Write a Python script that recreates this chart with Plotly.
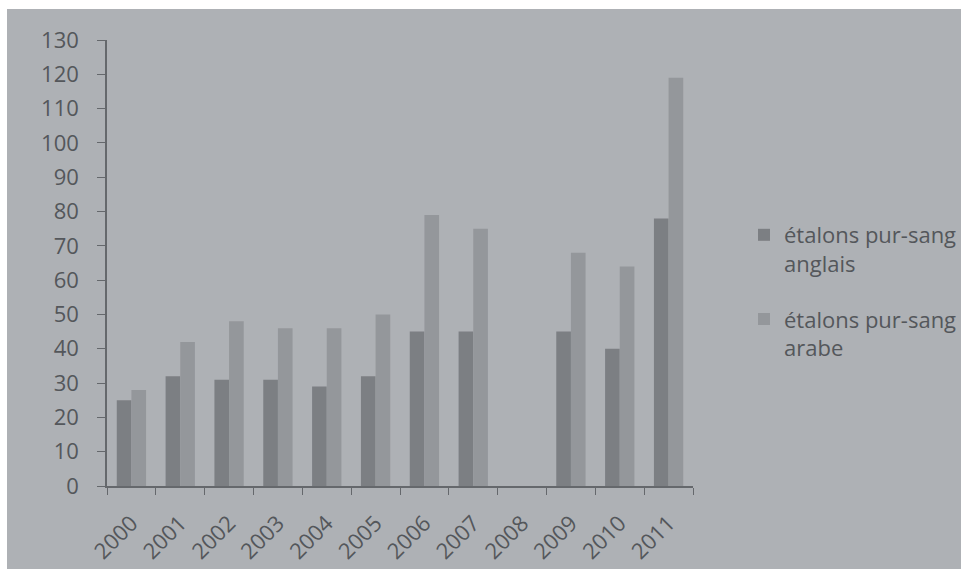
import plotly.graph_objects as go

# Horse stallion counts per year
years = ["2000", "2001", "2002", "2003", "2004", "2005",
         "2006", "2007", "2008", "2009", "2010", "2011"]
anglais = [25, 32, 31, 31, 29, 32, 45, 45, None, 45, 40, 78]
arabe = [28, 42, 48, 46, 46, 50, 79, 75, None, 68, 64, 119]
y_ticks = list(range(0, 131, 10))

BG = "#aeb1b5"
TXT = "#54575b"
AXIS = "#65686c"

fig = go.Figure()
fig.add_trace(go.Bar(
    x=years, y=anglais, name="étalons pur-sang<br>anglais",
    legendgroup="anglais",
    marker=dict(color="#7c7f83", line=dict(width=0)),
))
fig.add_trace(go.Bar(
    x=years, y=arabe, name="étalons pur-sang<br>arabe",
    legendgroup="arabe",
    marker=dict(color="#94979b", line=dict(width=0)),
))

W, H = 961, 569
L, R, T, B = 107, 268, 40, 83
pw, ph = W - L - R, H - T - B

# page frame: thin white border at top and left edges
fig.add_shape(
    type="rect", xref="paper", yref="paper", layer="below",
    x0=(7 - L) / pw, x1=(W - L) / pw + 0.05,
    y0=-(B + 5) / ph, y1=(H - B - 9) / ph,
    fillcolor=BG, line=dict(width=0),
)

fig.update_layout(
    width=W, height=H,
    margin=dict(l=L, r=R, t=T, b=B, pad=0, autoexpand=False),
    paper_bgcolor="white",
    plot_bgcolor=BG,
    barmode="group",
    bargap=0.4,
    bargroupgap=0,
    font=dict(family="Open Sans", size=22, color=TXT),
    showlegend=True,
    legend=dict(
        x=(744 - L) / pw, y=(H - B - 214) / ph,
        xanchor="left", yanchor="top",
        bgcolor="rgba(0,0,0,0)",
        font=dict(family="Open Sans", size=22, color=TXT),
        itemwidth=30,
        tracegroupgap=24,
        traceorder="grouped",
        valign="top",
    ),
    xaxis=dict(
        type="category",
        tickangle=-45,
        showline=True, linecolor=AXIS, linewidth=1.5,
        ticks="outside", ticklen=7, tickcolor=AXIS,
        tickson="boundaries",
        ticklabelstandoff=14,
        showgrid=False, zeroline=False,
        tickfont=dict(size=22, color=TXT),
    ),
    yaxis=dict(
        range=[0, 130],
        tickvals=y_ticks,
        showline=True, linecolor=AXIS, linewidth=1.5,
        ticks="outside", ticklen=8, tickcolor=AXIS,
        ticklabelstandoff=14,
        showgrid=False, zeroline=False,
        tickfont=dict(size=22, color=TXT),
    ),
)

fig.write_html("out.html")
